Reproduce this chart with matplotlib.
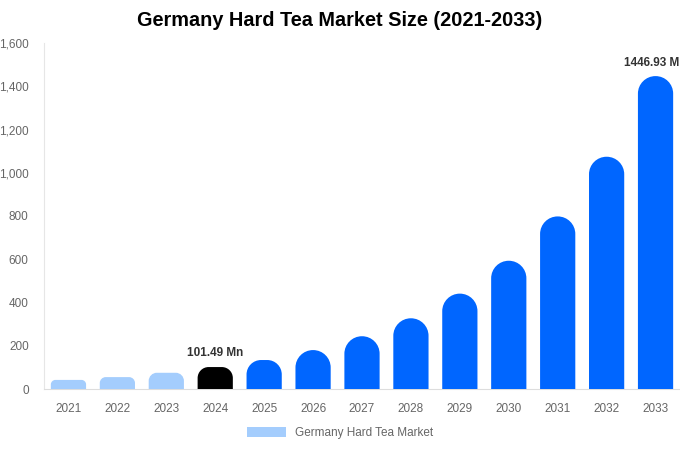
import matplotlib
matplotlib.use("Agg")
import matplotlib.pyplot as plt
from matplotlib.path import Path
from matplotlib.patches import PathPatch, Patch
import numpy as np

plt.rcParams["font.family"] = ["Liberation Sans", "DejaVu Sans"]

years = ["2021", "2022", "2023", "2024", "2025", "2026", "2027",
         "2028", "2029", "2030", "2031", "2032", "2033"]
values = [42, 55, 75, 101.49, 134, 180, 244, 327, 441, 593, 798, 1074, 1446.93]
bar_colors = ["#a4cdfd"] * 3 + ["#000000"] + ["#0066ff"] * 9
labels = {3: "101.49 Mn", 12: "1446.93 Mn"}

fig = plt.figure(figsize=(6.8, 4.5), dpi=100, facecolor="white")
ax = fig.add_axes([44 / 680, 1 - 389 / 450, 636 / 680, 346 / 450])

x = np.arange(len(years))
width = 0.72
ax.set_xlim(-0.5, len(years) - 0.5)
ax.set_ylim(0, 1600)

# pixel -> data scale for the rounded tops
px_x = 636 / len(years)
px_y = 346 / 1600
r_max = 17.5

def rounded_bar(xc, h, color):
    w = width
    r = min(r_max, h * px_y / 2, w * px_x / 2)
    rx, ry = r / px_x, r / px_y
    x0, x1 = xc - w / 2, xc + w / 2
    k = 0.5523
    verts = [(x0, 0), (x0, h - ry),
             (x0, h - ry + k * ry), (x0 + rx - k * rx, h), (x0 + rx, h),
             (x1 - rx, h),
             (x1 - rx + k * rx, h), (x1, h - ry + k * ry), (x1, h - ry),
             (x1, 0), (x0, 0)]
    codes = [Path.MOVETO, Path.LINETO,
             Path.CURVE4, Path.CURVE4, Path.CURVE4,
             Path.LINETO,
             Path.CURVE4, Path.CURVE4, Path.CURVE4,
             Path.LINETO, Path.CLOSEPOLY]
    ax.add_patch(PathPatch(Path(verts, codes), facecolor=color,
                           edgecolor="none", zorder=3))

for xi, v, c in zip(x, values, bar_colors):
    rounded_bar(xi, v, c)

for i, txt in labels.items():
    ax.text(x[i], values[i] + 35, txt, ha="center", va="bottom",
            fontsize=8.5, fontweight="bold", color="#333333", clip_on=False)

ax.set_xticks(x)
ax.set_xticklabels(years)
ax.set_yticks(range(0, 1601, 200))
ax.set_yticklabels([f"{t:,}" for t in range(0, 1601, 200)])
ax.tick_params(axis="both", length=0, labelsize=8.5, colors="#666666")
ax.tick_params(axis="x", pad=10)
ax.tick_params(axis="y", pad=11)

for side in ("top", "right"):
    ax.spines[side].set_visible(False)
ax.spines["left"].set_color("#e6e6e6")
ax.spines["bottom"].set_color("#dddddd")

fig.text(0.5, 1 - 21 / 450, "Germany Hard Tea Market Size (2021-2033)",
         ha="center", va="center", fontsize=14.3, fontweight="bold", color="#000000")

leg = fig.legend(handles=[Patch(facecolor="#a4cdfd", edgecolor="none",
                                label="Germany Hard Tea Market")],
                 loc="center", bbox_to_anchor=(0.5, 1 - 433 / 450),
                 frameon=False, fontsize=8.5, handlelength=3.3, handleheight=0.9)
for t in leg.get_texts():
    t.set_color("#666666")

fig.savefig("out.png", dpi=100)
